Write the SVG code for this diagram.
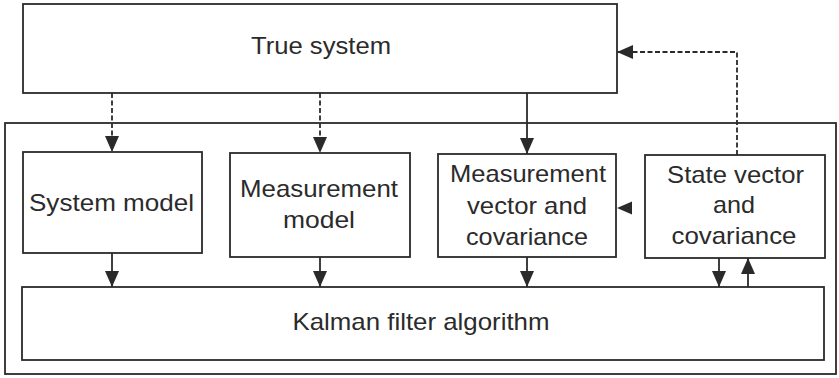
<svg xmlns="http://www.w3.org/2000/svg" width="839" height="378" viewBox="0 0 839 378">
  <style>
    .box { fill: #ffffff; stroke: #2a2a2a; stroke-width: 1.8; }
    .lbl { font-family: "Liberation Sans", Arial, sans-serif; font-size: 24px; fill: #2b2b2b; text-anchor: middle; }
    .wire { fill: none; stroke: #2a2a2a; stroke-width: 1.8; }
    .dash { stroke-dasharray: 5 2.5; }
    .head { fill: #2a2a2a; stroke: none; }
  </style>
  <defs>
    <marker id="arrow" viewBox="0 0 16 14" refX="16" refY="7" markerWidth="16" markerHeight="14" markerUnits="userSpaceOnUse" orient="auto">
      <path d="M0,0 L16,7 L0,14 Z" fill="#2a2a2a"/>
    </marker>
  </defs>
  <rect width="839" height="378" fill="#ffffff"/>

  <!-- outer frame around the estimator -->
  <g id="estimator-frame">
    <rect class="box" x="5" y="123" width="831" height="251"/>
  </g>

  <g id="true-system">
    <rect class="box" x="23" y="4" width="594" height="89"/>
    <text class="lbl" x="321" y="54" textLength="140" lengthAdjust="spacingAndGlyphs">True system</text>
  </g>

  <g id="system-model">
    <rect class="box" x="23" y="152" width="179" height="101"/>
    <text class="lbl" x="111.5" y="211" textLength="165" lengthAdjust="spacingAndGlyphs">System model</text>
  </g>

  <g id="measurement-model">
    <rect class="box" x="230" y="153" width="180" height="104"/>
    <text class="lbl" x="319" y="197" textLength="158" lengthAdjust="spacingAndGlyphs">Measurement</text>
    <text class="lbl" x="319" y="228" textLength="72" lengthAdjust="spacingAndGlyphs">model</text>
  </g>

  <g id="measurement-vector">
    <rect class="box" x="438" y="154" width="178" height="103"/>
    <text class="lbl" x="528" y="182" textLength="156" lengthAdjust="spacingAndGlyphs">Measurement</text>
    <text class="lbl" x="527" y="214" textLength="120" lengthAdjust="spacingAndGlyphs">vector and</text>
    <text class="lbl" x="527" y="245" textLength="122" lengthAdjust="spacingAndGlyphs">covariance</text>
  </g>

  <g id="state-vector">
    <rect class="box" x="645" y="155" width="180" height="103"/>
    <text class="lbl" x="735.5" y="183" textLength="137" lengthAdjust="spacingAndGlyphs">State vector</text>
    <text class="lbl" x="734" y="213" textLength="42" lengthAdjust="spacingAndGlyphs">and</text>
    <text class="lbl" x="734" y="244" textLength="125" lengthAdjust="spacingAndGlyphs">covariance</text>
  </g>

  <g id="kalman-filter">
    <rect class="box" x="22" y="287" width="802" height="73"/>
    <text class="lbl" x="421" y="330" textLength="257" lengthAdjust="spacingAndGlyphs">Kalman filter algorithm</text>
  </g>

  <g id="connectors">
    <!-- true system to the models -->
    <path class="wire dash" d="M112,93 V152" marker-end="url(#arrow)"/>
    <path class="wire dash" d="M320,93 V153" marker-end="url(#arrow)"/>
    <path class="wire" d="M527,93 V154" marker-end="url(#arrow)"/>
    <!-- state feedback to the true system -->
    <path class="wire dash" d="M737,155 V52 H617" marker-end="url(#arrow)"/>
    <!-- state vector to measurement vector -->
    <polygon class="head" points="617,208 632,201.5 632,214.5"/>
    <!-- blocks into the filter -->
    <path class="wire" d="M112,253 V287" marker-end="url(#arrow)"/>
    <path class="wire" d="M320,257 V287" marker-end="url(#arrow)"/>
    <path class="wire" d="M527,257 V287" marker-end="url(#arrow)"/>
    <path class="wire" d="M719,258 V287" marker-end="url(#arrow)"/>
    <!-- filter output back to the state -->
    <path class="wire" d="M748,287 V258" marker-end="url(#arrow)"/>
  </g>
</svg>
